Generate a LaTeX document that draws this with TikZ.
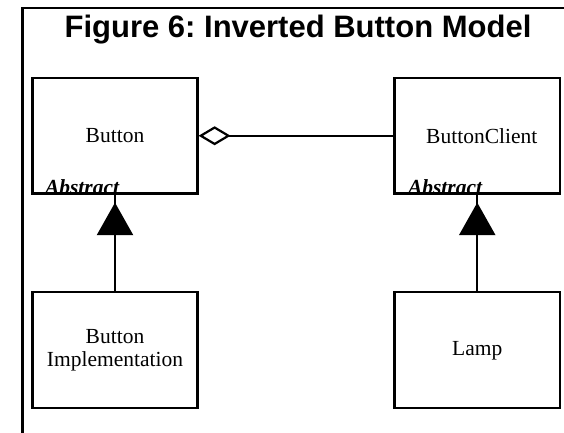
\documentclass[tikz,border=0pt]{standalone}
\usepackage{fontspec}
\setmainfont{Liberation Serif}
\newfontfamily\titlefont{Liberation Sans}
\usetikzlibrary{arrows.meta}
\frenchspacing
\begin{document}
\begin{tikzpicture}[x=1pt,y=-1pt,line width=2.2pt,
  classbox/.style={draw,rectangle,minimum width=165pt,minimum height=115.5pt,
    inner sep=0pt,align=center,font=\fontsize{21.5}{22.5}\selectfont},
  abstractlabel/.style={anchor=base west,inner sep=0pt,
    font=\fontsize{21.5}{22.5}\selectfont\bfseries\itshape},
  aggregation/.style={-{Diamond[open,fill=white,length=32pt,width=19pt]}},
  inherit/.style={-{Triangle[length=32.5pt,width=36pt]}}]
\useasboundingbox (0,0) rectangle (564,433);
% frame
\draw (22.5,440) -- (22.5,8) -- (570,8);
% title
\node[anchor=base,inner sep=0pt,font=\titlefont\fontsize{31}{33}\selectfont\bfseries]
  (title) at (298,38) {Figure 6: Inverted Button Model};
% classes
\node[classbox] (button) at (115,135.75) {\raisebox{-3pt}{Button}};
\node[classbox,minimum width=165.5pt] (client) at (477.25,135.75) {\hspace*{9pt}\raisebox{-3pt}{ButtonClient}};
\node[classbox,minimum height=116pt] (impl) at (115,350.3) {\raisebox{-3pt}{\parbox{150pt}{\centering Button\\Implementation}}};
\node[classbox,minimum width=165.5pt,minimum height=116pt] (lamp) at (477.25,350.3) {\raisebox{-3pt}{Lamp}};
% abstract markers
\node[abstractlabel,xshift=12.5pt] (absA) at (button.south west) {Abstract};
\node[abstractlabel,xshift=13.5pt] (absB) at (client.south west) {Abstract};
% aggregation
\draw[aggregation] (client.west) -- (button.east);
% inheritance
\draw (impl.north) -- (button.south);
\draw[inherit] (impl.north) -- ([yshift=-8pt]button.south);
\draw (lamp.north) -- (client.south);
\draw[inherit] (lamp.north) -- ([yshift=-8pt]client.south);
\end{tikzpicture}
\end{document}
